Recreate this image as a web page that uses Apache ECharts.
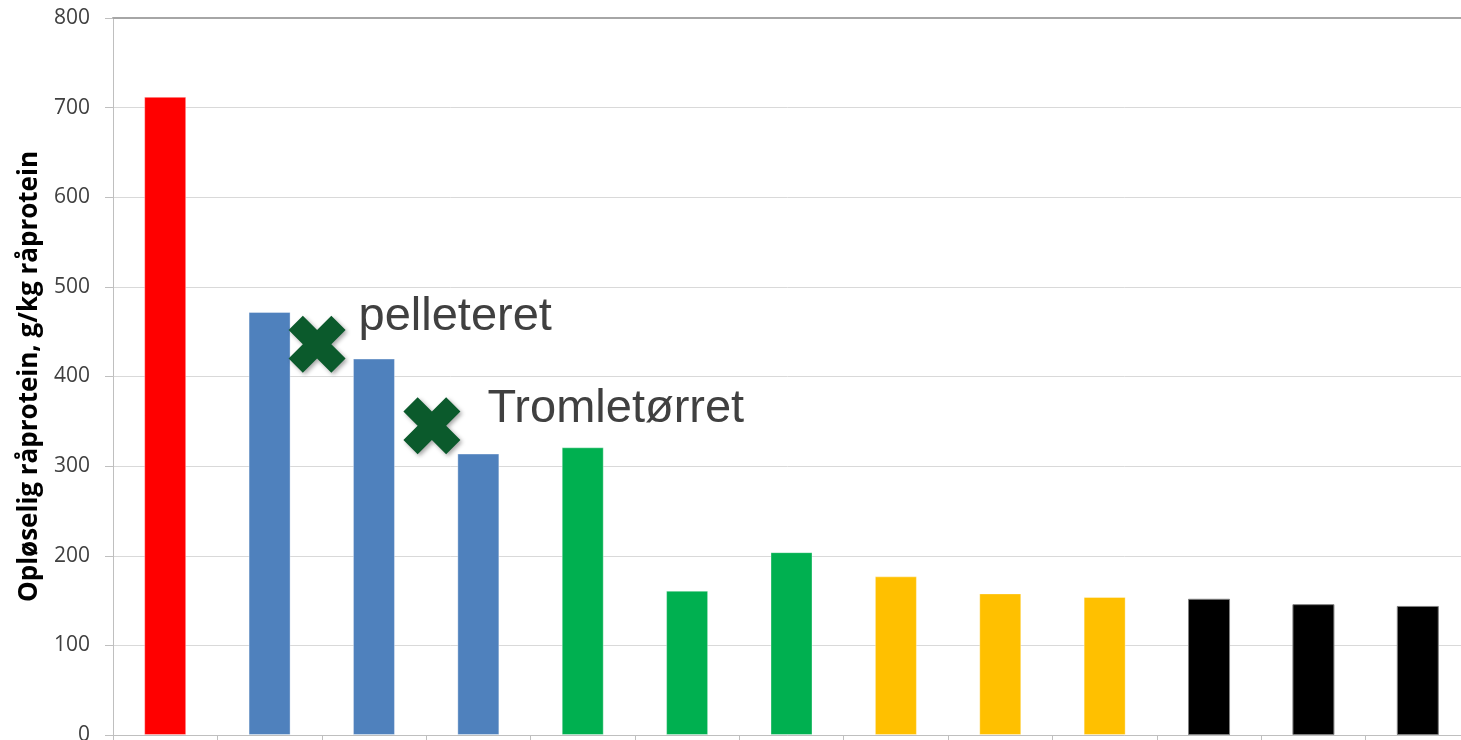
<!DOCTYPE html>
<html>
<head>
<meta charset="utf-8">
<script src="https://cdn.jsdelivr.net/npm/echarts@6/dist/echarts.min.js"></script>
<style>
  html, body { margin: 0; padding: 0; background: #fff; overflow: hidden; }
  #chart-div { width: 1461px; height: 740px; }
</style>
</head>
<body>
<div id="chart-div"></div>
<script>

// bars, left to right (no category text shown in the picture)
var categories = ['1', '2', '3', '4', '5', '6', '7', '8', '9', '10', '11', '12', '13'];
var values = [712, 472, 420, 314, 321, 161, 204, 177, 158, 154, 152, 146, 144];
var barColors = ['#ff0000', '#4f81bd', '#4f81bd', '#4f81bd', '#00b050', '#00b050', '#00b050',
                 '#ffc000', '#ffc000', '#ffc000', '#000000', '#000000', '#000000'];

// y axis
var yTicks = [0, 100, 200, 300, 400, 500, 600, 700, 800];
var yTitle = 'Opløselig råprotein, g/kg råprotein';

// the two green crosses with their notes (x in category units, y in axis units)
var markNames = ['pelleteret', 'Tromletørret'];
var markX = [1.955, 3.055];
var markY = [436, 345];

var crossPath = 'path://M2.5,0 L5,2.5 L7.5,0 L10,2.5 L7.5,5 L10,7.5 L7.5,10 L5,7.5 L2.5,10 L0,7.5 L2.5,5 L0,2.5 Z';
var labelOffsets = [[8, -27], [22, -17]];

var barData = values.map(function(v, i) {
    return {
        value: v,
        itemStyle: {
            color: barColors[i],
            borderColor: barColors[i] === '#000000' ? '#808080' : 'rgba(255,255,255,0.35)',
            borderWidth: 1
        }
    };
});

var markData = markNames.map(function(name, i) {
    return {
        name: name,
        value: [markX[i], markY[i]],
        label: { offset: labelOffsets[i] }
    };
});

var opts = {
    backgroundColor: '#ffffff',
    animation: false,
    grid: { left: 113, top: 18, right: -9, bottom: 5, containLabel: false, outerBoundsMode: 'none' },
    xAxis: [{
        type: 'category',
        data: categories,
        position: 'bottom',
        axisLine: { show: true, lineStyle: { color: '#bfbfbf', width: 1 } },
        axisTick: { show: true, length: 5, lineStyle: { color: '#bfbfbf' } },
        axisLabel: { show: false },
        splitLine: { show: false }
    }, {
        type: 'value',
        min: 0,
        max: categories.length,
        position: 'top',
        axisLine: { show: true, onZero: false, lineStyle: { color: '#a6a6a6', width: 2 } },
        axisTick: { show: false },
        axisLabel: { show: false },
        splitLine: { show: false }
    }],
    yAxis: {
        type: 'value',
        min: yTicks[0],
        max: yTicks[yTicks.length - 1],
        interval: 100,
        name: yTitle,
        nameLocation: 'middle',
        nameRotate: 90,
        nameGap: 66,
        nameTextStyle: { fontFamily: 'Open Sans', fontWeight: 'bold', fontSize: 26, color: '#000000' },
        axisLine: { show: true, lineStyle: { color: '#bfbfbf' } },
        axisTick: { show: true, length: 8, lineStyle: { color: '#bfbfbf' } },
        axisLabel: { margin: 23, fontFamily: 'Open Sans', fontSize: 21, color: '#404040' },
        splitLine: { show: true, lineStyle: { color: '#d9d9d9', width: 1 } }
    },
    series: [{
        type: 'bar',
        xAxisIndex: 0,
        data: barData,
        barWidth: 42
    }, {
        type: 'scatter',
        xAxisIndex: 1,
        data: markData,
        symbol: crossPath,
        symbolSize: 57,
        itemStyle: {
            color: '#0b5a2c',
            opacity: 1,
            shadowColor: 'rgba(0,0,0,0.35)',
            shadowBlur: 4,
            shadowOffsetX: 2,
            shadowOffsetY: 2
        },
        label: {
            show: true,
            position: 'right',
            formatter: '{b}',
            fontFamily: 'Liberation Sans',
            fontSize: 47,
            color: '#404040'
        },
        z: 5
    }]
};

var myChartObj = echarts.init(document.getElementById('chart-div'));
myChartObj.setOption(opts);

</script>
</body>
</html>
